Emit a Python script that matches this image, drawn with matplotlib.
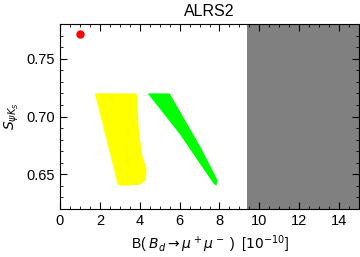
import numpy as np
import matplotlib.pyplot as plt
from matplotlib.ticker import MultipleLocator

plt.rcParams['font.family'] = ['Liberation Sans', 'DejaVu Sans']
plt.rcParams['mathtext.fontset'] = 'dejavusans'

# SM point
sm_x = [1.0]
sm_y = [0.771]

# yellow region outline (B_d -> mu mu [1e-10], S_psiKs)
yellow_x = [1.75, 3.85, 3.95, 4.1, 4.35, 4.3, 4.0, 3.1, 2.9]
yellow_y = [0.720, 0.720, 0.690, 0.668, 0.654, 0.645, 0.641, 0.640, 0.641]

# green region outline
green_x = [4.4, 5.5, 6.2, 7.1, 7.9, 7.85, 7.7, 6.0]
green_y = [0.720, 0.720, 0.699, 0.672, 0.645, 0.640, 0.642, 0.685]

# excluded region
excl_lo, excl_hi = 9.4, 15.0

fig = plt.figure(figsize=(3.6, 2.57), dpi=100)
ax = fig.add_axes([60 / 360, 1 - 209 / 257, 299 / 360, 185 / 257])

ax.axvspan(excl_lo, excl_hi, color='#808080', lw=0, zorder=1)
ax.fill(yellow_x, yellow_y, color='#ffff00', lw=0, zorder=2)
ax.fill(green_x, green_y, color='#00ff00', lw=0, zorder=2)
ax.plot(sm_x, sm_y, 'o', color='#ff0000', ms=5, zorder=3)

ax.set_xlim(0, 15)
ax.set_ylim(0.62, 0.78)
ax.xaxis.set_major_locator(MultipleLocator(2))
ax.xaxis.set_minor_locator(MultipleLocator(0.5))
ax.yaxis.set_major_locator(MultipleLocator(0.05))
ax.yaxis.set_minor_locator(MultipleLocator(0.01))
ax.tick_params(which='both', direction='in', top=True, right=True, labelsize=10.5)
ax.tick_params(which='major', length=5, width=0.8)
ax.tick_params(which='minor', length=2.5, width=0.6)
ax.set_yticks([0.65, 0.70, 0.75])
ax.set_yticklabels(['0.65', '0.70', '0.75'])

ax.set_title('ALRS2', fontsize=11.5, pad=6)
ax.set_xlabel(r'B( $B_d\rightarrow\mu^+\mu^-$ )  [$10^{-10}$]', fontsize=10)
ax.set_ylabel(r'$S_{\psi K_S}$', fontsize=10)

fig.savefig('out.png', dpi=100)
